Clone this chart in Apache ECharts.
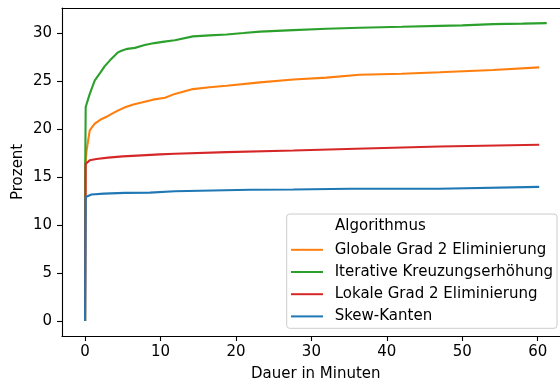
<!DOCTYPE html>
<html>
<head>
<meta charset="utf-8">
<script src="https://cdn.jsdelivr.net/npm/echarts@6/dist/echarts.min.js"></script>
<style>
  html, body { margin: 0; padding: 0; background: #fff; }
  #chart { width: 560px; height: 383px; }
</style>
</head>
<body>
<div id="chart"></div>
<script>
// Share of solved instances (percent) over run time (minutes), per algorithm
const seriesNames = [
  'Globale Grad 2 Eliminierung',
  'Iterative Kreuzungserhöhung',
  'Lokale Grad 2 Eliminierung',
  'Skew-Kanten'
];

const globaleX = [0, 0.02, 0.2, 0.4, 0.62, 1.0, 1.29, 2.0, 3.05, 4.2, 5.3, 6.4, 7.5, 9.0, 10.6, 11.9, 14.3, 16.5, 18.75, 23.2, 27.6, 32, 36.4, 42, 47, 54.1, 60.2];
const globaleY = [0, 16.0, 17.8, 18.8, 19.9, 20.3, 20.6, 21.0, 21.4, 21.9, 22.3, 22.6, 22.8, 23.1, 23.3, 23.7, 24.2, 24.4, 24.55, 24.9, 25.2, 25.4, 25.7, 25.8, 25.95, 26.2, 26.47];

const iterativeX = [0, 0.02, 0.08, 0.3, 0.62, 1.0, 1.29, 2.0, 2.61, 3.3, 3.94, 4.3, 4.83, 5.6, 6.6, 7.9, 9.2, 10.5, 11.9, 14.3, 16.5, 18.75, 21, 23.2, 27.6, 32, 36.4, 42, 47, 50, 54.1, 58, 61.2];
const iterativeY = [0, 16.0, 22.3, 22.9, 23.7, 24.5, 25.1, 25.9, 26.6, 27.2, 27.7, 28.0, 28.2, 28.4, 28.5, 28.8, 29.0, 29.15, 29.3, 29.7, 29.8, 29.9, 30.05, 30.2, 30.35, 30.5, 30.6, 30.7, 30.8, 30.85, 30.98, 31.03, 31.08];

const lokaleX = [0, 0.08, 0.2, 0.62, 1.5, 3.05, 5, 7.5, 9.9, 11.9, 18.75, 27.6, 35.9, 36.1, 47, 60.2];
const lokaleY = [0, 16.4, 16.6, 16.77, 16.9, 17.05, 17.18, 17.29, 17.39, 17.46, 17.63, 17.8, 17.98, 18.08, 18.22, 18.4];

const skewX = [0, 0.08, 0.85, 2.5, 5.3, 8.6, 11.9, 21.9, 27.6, 35.1, 46.9, 47.1, 60.2];
const skewY = [0, 12.95, 13.2, 13.3, 13.37, 13.4, 13.54, 13.7, 13.72, 13.8, 13.8, 13.88, 14.0];

const xTicks = [0, 10, 20, 30, 40, 50, 60];
const yTicks = [0, 5, 10, 15, 20, 25, 30];

const colors = ['#ff7f0e', '#2ca02c', '#d62728', '#1f77b4'];
const FONT = 'DejaVu Sans';
const FS = 15;

const pairs = (xs, ys) => xs.map((x, i) => [x, ys[i]]);
const lines = [
  pairs(globaleX, globaleY),
  pairs(iterativeX, iterativeY),
  pairs(lokaleX, lokaleY),
  pairs(skewX, skewY)
];

const X_MIN = -3.06, X_MAX = 62.96;
const Y_MIN = -1.555, Y_MAX = 32.66;

const chart = echarts.init(document.getElementById('chart'), null, { renderer: 'canvas' });

const spine = { show: true, onZero: false, lineStyle: { color: '#000', width: 1.1 } };
const tickStyle = { color: '#000', width: 1.1 };

chart.setOption({
  animation: false,
  backgroundColor: '#fff',
  grid: { left: 62, right: 0, top: 8, bottom: 47 },
  xAxis: [{
    type: 'value', min: X_MIN, max: X_MAX, position: 'bottom',
    axisLine: spine,
    axisTick: { show: true, length: 5, inside: false, customValues: xTicks, lineStyle: tickStyle },
    axisLabel: { customValues: xTicks, margin: 9, color: '#000', fontFamily: FONT, fontSize: FS },
    splitLine: { show: false }
  }, {
    type: 'value', min: X_MIN, max: X_MAX, position: 'top',
    axisLine: spine, axisTick: { show: false }, axisLabel: { show: false }, splitLine: { show: false }
  }],
  yAxis: {
    type: 'value', min: Y_MIN, max: Y_MAX, position: 'left',
    axisLine: spine,
    axisTick: { show: true, length: 5, customValues: yTicks, lineStyle: tickStyle },
    axisLabel: { customValues: yTicks, margin: 10, color: '#000', fontFamily: FONT, fontSize: FS },
    splitLine: { show: false }
  },
  legend: {
    orient: 'vertical',
    left: 291, top: 242.3,
    padding: 0,
    data: seriesNames,
    icon: 'rect',
    itemWidth: 32, itemHeight: 2,
    itemGap: 7.2,
    textStyle: { fontFamily: FONT, fontSize: FS, color: '#000', lineHeight: 15, padding: [0, 0, 0, 6.7] },
    selectedMode: false
  },
  graphic: [
    {
      type: 'rect', z: 0, silent: true,
      shape: { x: 286.7, y: 214, width: 270.3, height: 114.3, r: 3 },
      style: { fill: 'rgba(255,255,255,0.8)', stroke: '#cccccc', lineWidth: 1 }
    },
    {
      type: 'text', z: 10, silent: true, x: 335, y: 226.2,
      style: { text: 'Algorithmus', font: FS + 'px "' + FONT + '"', fill: '#000', verticalAlign: 'middle' }
    },
    {
      type: 'text', z: 10, silent: true, x: 315.8, y: 374,
      style: { text: 'Dauer in Minuten', font: FS + 'px "' + FONT + '"', fill: '#000', align: 'center', verticalAlign: 'middle' }
    },
    {
      type: 'text', z: 10, silent: true, x: 18, y: 171.9, rotation: Math.PI / 2,
      style: { text: 'Prozent', font: FS + 'px "' + FONT + '"', fill: '#000', align: 'center', verticalAlign: 'middle' }
    }
  ],
  series: seriesNames.map((name, i) => ({
    name,
    type: 'line',
    data: lines[i],
    showSymbol: false,
    symbol: 'none',
    color: colors[i],
    lineStyle: { color: colors[i], width: 2.1 },
    z: 2 + i
  }))
});
</script>
</body>
</html>
